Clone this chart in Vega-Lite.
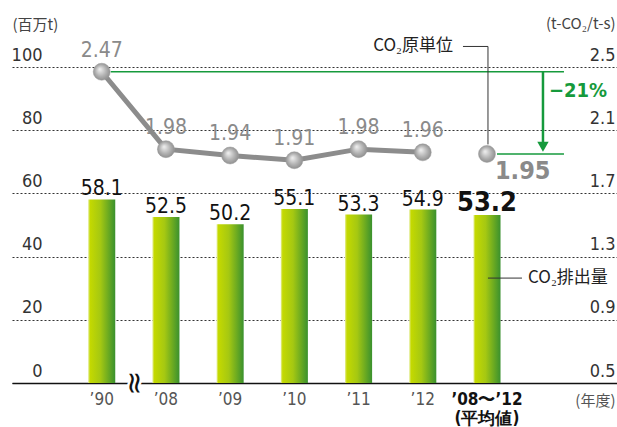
{
  "$schema": "https://vega.github.io/schema/vega-lite/v6.json",
  "width": 605,
  "height": 316,
  "autosize": {"type": "none"},
  "padding": {"left": 12, "top": 67, "right": 0, "bottom": 44},
  "config": {
    "view": {"stroke": null},
    "font": "Liberation Sans Narrow, DejaVu Sans Condensed, sans-serif"
  },
  "datasets": {
    "bars": [
      {"cat": "’90", "val": 58.1, "kind": "year"},
      {"cat": "’08", "val": 52.5, "kind": "year"},
      {"cat": "’09", "val": 50.2, "kind": "year"},
      {"cat": "’10", "val": 55.1, "kind": "year"},
      {"cat": "’11", "val": 53.3, "kind": "year"},
      {"cat": "’12", "val": 54.9, "kind": "year"},
      {"cat": "’08〜’12", "val": 53.2, "kind": "avg"}
    ],
    "ratio": [
      {"cat": "’90", "val": 2.47, "kind": "year"},
      {"cat": "’08", "val": 1.98, "kind": "year"},
      {"cat": "’09", "val": 1.94, "kind": "year"},
      {"cat": "’10", "val": 1.91, "kind": "year"},
      {"cat": "’11", "val": 1.98, "kind": "year"},
      {"cat": "’12", "val": 1.96, "kind": "year"},
      {"cat": "’08〜’12", "val": 1.95, "kind": "avg"}
    ],
    "leftNotes": [
      {"cat": "’90", "val": 0, "label": "≈", "role": "break"},
      {"cat": "’08〜’12", "cat2": "’08〜’12", "val": 33.2, "label": "CO₂排出量", "role": "leader"}
    ],
    "rightNotes": [
      {"cat": "’90", "cat2": "’08〜’12", "val": 2.47, "role": "topline"},
      {"cat": "’08〜’12", "cat2": "’08〜’12", "val": 1.95, "role": "botline"},
      {"cat": "’08〜’12", "val": 2.47, "val2": 2.0, "role": "arrow"},
      {"cat": "’08〜’12", "val": 1.995, "role": "head"},
      {"cat": "’08〜’12", "val": 2.35, "label": "−21%", "role": "pct"},
      {"cat": "’08〜’12", "cat2": "’08〜’12", "val": 2.63, "val2": 2.01, "label": "CO₂原単位", "role": "leader"}
    ]
  },
  "encoding": {
    "x": {
      "field": "cat",
      "type": "nominal",
      "sort": null,
      "scale": {
        "domain": ["’90", "’08", "’09", "’10", "’11", "’12", "’08〜’12", "_"],
        "paddingInner": 0.578,
        "paddingOuter": 1,
        "align": 0.593
      },
      "axis": {
        "title": "(年度)",
        "titleFont": "Noto Sans CJK JP",
        "titleFontWeight": "normal",
        "titleFontSize": 15,
        "titleColor": "#555",
        "titleAnchor": null,
        "titleX": 603,
        "titleY": 17,
        "titleAlign": "right",
        "titleBaseline": "middle",
        "domain": true,
        "domainColor": "#111",
        "domainWidth": 1.5,
        "ticks": false,
        "grid": false,
        "labelAngle": 0,
        "labelPadding": 8,
        "labelBaseline": "top",
        "labelFontSize": 17,
        "labelLineHeight": 19,
        "labelColor": {"condition": {"test": "datum.value == '’08〜’12'", "value": "#111"}, "value": "#555"},
        "labelFontWeight": {"condition": {"test": "datum.value == '’08〜’12'", "value": "bold"}, "value": "normal"},
        "labelExpr": "datum.value == '’08〜’12' ? ['’08〜’12', '(平均値)'] : (datum.value == '_' ? '' : datum.value)"
      }
    }
  },
  "layer": [
    {
      "encoding": {
        "y": {
          "field": "val",
          "type": "quantitative",
          "scale": {"domain": [0, 100], "nice": false},
          "axis": {
            "orient": "left",
            "values": [0, 20, 40, 60, 80, 100],
            "title": "(百万t)",
            "titleFont": "Noto Sans CJK JP",
            "titleFontWeight": "normal",
            "titleFontSize": 15,
            "titleColor": "#444",
            "titleAngle": 0,
            "titleAnchor": null,
            "titleAlign": "left",
            "titleBaseline": "middle",
            "titleX": 0,
            "titleY": -43,
            "domain": false,
            "ticks": false,
            "grid": true,
            "gridDash": [2, 2],
            "gridColor": "#333",
            "gridWidth": 1,
            "labelPadding": -30,
            "labelAlign": "right",
            "labelBaseline": "bottom",
            "labelOffset": -3,
            "labelFontSize": 18,
            "labelColor": "#333"
          }
        }
      },
      "layer": [
        {
          "data": {"name": "bars"},
          "mark": {
            "type": "bar",
            "color": {
              "gradient": "linear",
              "x1": 0, "y1": 0, "x2": 1, "y2": 0,
              "stops": [
                {"offset": 0, "color": "#e6efa0"},
                {"offset": 0.07, "color": "#c4d900"},
                {"offset": 0.45, "color": "#a5c812"},
                {"offset": 1, "color": "#3a912e"}
              ]
            }
          }
        },
        {
          "data": {"name": "bars"},
          "transform": [{"filter": "datum.kind == 'year'"}],
          "mark": {"type": "text", "baseline": "alphabetic", "dy": -4, "fontSize": 21, "color": "#111"},
          "encoding": {"text": {"field": "val", "type": "quantitative", "format": ".1f"}}
        },
        {
          "data": {"name": "bars"},
          "transform": [{"filter": "datum.kind == 'avg'"}],
          "mark": {"type": "text", "baseline": "alphabetic", "dy": -4, "fontSize": 27, "fontWeight": "bold", "color": "#111"},
          "encoding": {"text": {"field": "val", "type": "quantitative", "format": ".1f"}}
        },
        {
          "data": {"name": "leftNotes"},
          "transform": [{"filter": "datum.role == 'break'"}],
          "mark": {"type": "text", "dx": 0, "dy": -32, "angle": 90, "align": "center", "baseline": "middle", "fontSize": 30, "font": "DejaVu Sans", "color": "white", "stroke": "white", "strokeWidth": 5},
          "encoding": {"text": {"field": "label"}}
        },
        {
          "data": {"name": "leftNotes"},
          "transform": [{"filter": "datum.role == 'break'"}],
          "mark": {"type": "text", "dx": 0, "dy": -32, "angle": 90, "align": "center", "baseline": "middle", "fontSize": 30, "font": "DejaVu Sans", "color": "#111"},
          "encoding": {"text": {"field": "label"}}
        },
        {
          "data": {"name": "leftNotes"},
          "transform": [{"filter": "datum.role == 'leader'"}],
          "mark": {"type": "rule", "color": "#333", "strokeWidth": 1, "xOffset": 1, "x2Offset": 35},
          "encoding": {"x2": {"field": "cat2"}}
        },
        {
          "data": {"name": "leftNotes"},
          "transform": [{"filter": "datum.role == 'leader'"}],
          "mark": {"type": "text", "align": "left", "baseline": "middle", "dx": 41, "fontSize": 17, "font": "Noto Sans CJK JP", "color": "#222"},
          "encoding": {"text": {"field": "label"}}
        }
      ]
    },
    {
      "encoding": {
        "y": {
          "field": "val",
          "type": "quantitative",
          "scale": {"domain": [0.5, 2.5], "nice": false, "zero": false},
          "axis": {
            "orient": "right",
            "values": [0.5, 0.9, 1.3, 1.7, 2.1, 2.5],
            "format": ".1f",
            "title": "(t-CO₂/t-s)",
            "titleFont": "Noto Sans CJK JP",
            "titleFontWeight": "normal",
            "titleFontSize": 15,
            "titleColor": "#444",
            "titleAngle": 0,
            "titleAnchor": null,
            "titleAlign": "right",
            "titleBaseline": "middle",
            "titleX": -2,
            "titleY": -44,
            "domain": false,
            "ticks": false,
            "grid": false,
            "labelPadding": -2,
            "labelAlign": "right",
            "labelBaseline": "bottom",
            "labelOffset": -3,
            "labelFontSize": 18,
            "labelColor": "#333"
          }
        }
      },
      "layer": [
        {
          "data": {"name": "rightNotes"},
          "transform": [{"filter": "datum.role == 'topline'"}],
          "mark": {"type": "rule", "color": "#169a3c", "strokeWidth": 1.5, "xOffset": 9, "x2Offset": 77},
          "encoding": {"x2": {"field": "cat2"}}
        },
        {
          "data": {"name": "rightNotes"},
          "transform": [{"filter": "datum.role == 'botline'"}],
          "mark": {"type": "rule", "color": "#169a3c", "strokeWidth": 1.5, "xOffset": 10, "x2Offset": 77},
          "encoding": {"x2": {"field": "cat2"}}
        },
        {
          "data": {"name": "rightNotes"},
          "transform": [{"filter": "datum.role == 'arrow'"}],
          "mark": {"type": "rule", "color": "#169a3c", "strokeWidth": 2.5, "xOffset": 56},
          "encoding": {"y2": {"field": "val2"}}
        },
        {
          "data": {"name": "rightNotes"},
          "transform": [{"filter": "datum.role == 'head'"}],
          "mark": {"type": "point", "shape": "triangle-down", "filled": true, "color": "#169a3c", "size": 130, "opacity": 1, "xOffset": 56},
          "encoding": {}
        },
        {
          "data": {"name": "rightNotes"},
          "transform": [{"filter": "datum.role == 'pct'"}],
          "mark": {"type": "text", "align": "left", "baseline": "middle", "dx": 62, "fontSize": 20, "fontWeight": "bold", "color": "#169a3c"},
          "encoding": {"text": {"field": "label"}}
        },
        {
          "data": {"name": "rightNotes"},
          "transform": [{"filter": "datum.role == 'leader'"}],
          "mark": {"type": "rule", "color": "#333", "strokeWidth": 1, "xOffset": -24, "x2Offset": 1},
          "encoding": {"x2": {"field": "cat2"}}
        },
        {
          "data": {"name": "rightNotes"},
          "transform": [{"filter": "datum.role == 'leader'"}],
          "mark": {"type": "rule", "color": "#333", "strokeWidth": 1, "xOffset": 1},
          "encoding": {"y2": {"field": "val2"}}
        },
        {
          "data": {"name": "rightNotes"},
          "transform": [{"filter": "datum.role == 'leader'"}],
          "mark": {"type": "text", "align": "right", "baseline": "middle", "dx": -34, "fontSize": 17, "font": "Noto Sans CJK JP", "color": "#222"},
          "encoding": {"text": {"field": "label"}}
        },
        {
          "data": {"name": "ratio"},
          "transform": [{"filter": "datum.kind == 'year'"}],
          "mark": {"type": "line", "color": "#8c8c8c", "strokeWidth": 5}
        },
        {
          "data": {"name": "ratio"},
          "mark": {
            "type": "point",
            "filled": true,
            "size": 289,
            "opacity": 1,
            "stroke": "#9a9a9a",
            "strokeWidth": 0.5,
            "fill": {
              "gradient": "radial",
              "x1": 0.38, "y1": 0.35, "r1": 0,
              "x2": 0.5, "y2": 0.5, "r2": 0.55,
              "stops": [
                {"offset": 0, "color": "#f2f2f2"},
                {"offset": 0.6, "color": "#b0b0b0"},
                {"offset": 1, "color": "#8a8a8a"}
              ]
            }
          },
          "encoding": {}
        },
        {
          "data": {"name": "ratio"},
          "transform": [{"filter": "datum.kind == 'year'"}],
          "mark": {"type": "text", "baseline": "alphabetic", "dy": -15, "fontSize": 21, "color": "#8a8a8a"},
          "encoding": {"text": {"field": "val", "type": "quantitative", "format": ".2f"}}
        },
        {
          "data": {"name": "ratio"},
          "transform": [{"filter": "datum.kind == 'avg'"}],
          "mark": {"type": "text", "align": "left", "baseline": "alphabetic", "dx": 8, "dy": 25, "fontSize": 25, "fontWeight": "bold", "color": "#8a8a8a"},
          "encoding": {"text": {"field": "val", "type": "quantitative", "format": ".2f"}}
        }
      ]
    }
  ],
  "resolve": {"scale": {"y": "independent"}}
}
